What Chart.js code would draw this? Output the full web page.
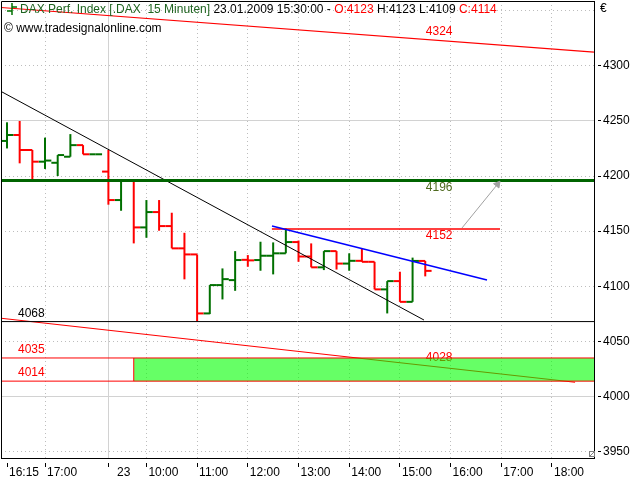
<!DOCTYPE html>
<html><head><meta charset="utf-8">
<script src="https://cdn.jsdelivr.net/npm/chart.js@4.4.1/dist/chart.umd.min.js"></script>
<style>html,body{margin:0;padding:0;background:#fff;}canvas{display:block;}</style>
</head><body>
<canvas id="c" width="640" height="480"></canvas>
<script>
// ---- data ----
const barTimes = ['16:15','16:30','16:45','17:00','17:15','17:30','17:45','18:00',
  '09:15','09:30','09:45','10:00','10:15','10:30','10:45','11:00','11:15','11:30','11:45','12:00',
  '12:15','12:30','12:45','13:00','13:15','13:30','13:45','14:00','14:15','14:30','14:45','15:00','15:15','15:30'];
const opens  = [4231.8,4237.2,4223.6,4213.0,4212.0,4217.5,4228.0,4219.7,4204.0,4178.2,4195.7,4153.4,4167.3,4154.6,4134.4,4128.9,4075.4,4101.1,4105.6,4124.0,4123.8,4127.7,4129.9,4140.1,4127.0,4117.2,4131.9,4120.6,4123.1,4122.2,4097.2,4104.7,4085.9,4123];
const highs  = [4248.7,4249.9,4223.6,4234.8,4219.0,4238.0,4228.0,4219.7,4223.6,4195.7,4195.7,4178.2,4178.2,4166.7,4148.5,4128.9,4101.1,4116.2,4131.9,4128.3,4140.4,4139.8,4152.5,4141.5,4138.9,4131.9,4131.9,4129.9,4134.4,4122.2,4104.7,4113.2,4126.0,4123];
const lows   = [4225.0,4211.5,4197.0,4206.4,4200.0,4217.5,4219.7,4219.7,4174.0,4168.5,4138.9,4144.0,4150.4,4134.4,4106.3,4068.4,4074.8,4088.1,4095.9,4117.7,4114.1,4110.8,4129.9,4122.2,4117.2,4114.7,4115.2,4114.1,4122.2,4097.2,4075.4,4085.9,4085.9,4109];
const closes = [4237.2,4223.6,4213.0,4214.0,4219.0,4228.0,4219.7,4219.7,4178.2,4195.7,4153.4,4167.3,4154.6,4134.4,4128.9,4075.4,4101.1,4106.5,4123.8,4123.5,4127.7,4129.9,4140.1,4127.0,4117.2,4131.9,4120.6,4123.1,4122.2,4097.2,4104.7,4085.9,4123.0,4114];

const xTickIndex  = [0,3,8,11,15,19,23,27,31,35,39,43];
const xTickLabels = ['16:15','17:00','  23','10:00','11:00','12:00','13:00','14:00','15:00','16:00','17:00','18:00'];
const yTickValues = [3950,4000,4050,4100,4150,4200,4250,4300,4350];
const yTickShown  = [3950,4000,4050,4100,4150,4200,4250,4300];

// drawn levels / trend lines (value coordinates: [bar index, price])
const resistLevel = 4196;
const breakoutLevel = 4152;
const supportLevel = 4068;
const zoneTop = 4035;
const zoneBottom = 4014;
const upperTrend = [[-0.47,4352.8],[46.31,4312.4]];
const upperTrendLabel = 4324;
const lowerTrend = [[-0.47,4071.0],[44.82,4013.0]];
const lowerTrendLabel = 4028;
const downTrend = [[-0.47,4276.7],[32.9,4069.4]];
const channelTop = [[20.91,4154.7],[37.87,4105.7]];
const breakoutLine = [[20.9,4152],[38.9,4152]];
const arrowLine = [[35.9,4152.9],[38.7,4192.5]];
const zoneStart = 10;

// ---- styles ----
const RED = '#ff0000', GREEN = '#007000';
const X_MIN = -0.4734, X_MAX = 46.314, Y_MIN = 3944.3, Y_MAX = 4358.7;
const FONT = '12px "Liberation Sans", Arial, sans-serif';

Chart.defaults.font.family = '"Liberation Sans", Arial, sans-serif';
Chart.defaults.font.size = 12;
Chart.defaults.color = '#000';

const N = opens.length;
const barColor = i => closes[i] >= opens[i] ? GREEN : RED;
const hlData = [], openData = [], closeData = [];
for (let i = 0; i < N; i++) {
  hlData.push({x:i,y:lows[i]},{x:i,y:highs[i]},{x:i,y:null});
  openData.push({x:i-0.5,y:opens[i]},{x:i,y:opens[i]},{x:i,y:null});
  closeData.push({x:i,y:closes[i]},{x:i+0.5,y:closes[i]},{x:i,y:null});
}
const pts = arr => arr.map(p => ({x:p[0], y:p[1]}));
const seg = {borderColor: ctx => barColor(Math.floor(ctx.p0DataIndex/3))};
const lineDs = (id, data, color, width, order, extra) => Object.assign({
  id, data, borderColor: color, borderWidth: width, pointRadius: 0, pointHitRadius: 0,
  fill: false, tension: 0, order, spanGaps: false
}, extra || {});

const datasets = [
  lineDs('lowerTrend', pts(lowerTrend), RED, 1.2, 20),
  lineDs('zoneFillTop', [{x:zoneStart,y:zoneTop},{x:X_MAX+1,y:zoneTop}], 'rgba(0,0,0,0)', 0, 19,
    {fill: {target: '+1'}, backgroundColor: 'rgba(0,255,0,0.6)'}),
  lineDs('zoneFillBottom', [{x:zoneStart,y:zoneBottom},{x:X_MAX+1,y:zoneBottom}], 'rgba(0,0,0,0)', 0, 18),
  lineDs('zoneTopLine', [{x:X_MIN-1,y:zoneTop},{x:X_MAX+1,y:zoneTop}], RED, 1, 17),
  lineDs('zoneBottomLine', [{x:X_MIN-1,y:zoneBottom},{x:X_MAX+1,y:zoneBottom}], RED, 1, 17),
  lineDs('zoneEdge', [{x:zoneStart,y:zoneBottom},{x:zoneStart,y:zoneTop}], RED, 1, 17),
  lineDs('hl', hlData, GREEN, 2, 12, {segment: seg}),
  lineDs('open', openData, GREEN, 2, 11, {segment: seg}),
  lineDs('close', closeData, GREEN, 2, 10, {segment: seg}),
  lineDs('support', [{x:X_MIN-1,y:supportLevel},{x:X_MAX+1,y:supportLevel}], '#000', 1, 5),
  lineDs('resist', [{x:X_MIN-1,y:resistLevel},{x:X_MAX+1,y:resistLevel}], '#006400', 3, 4),
  lineDs('upperTrend', pts(upperTrend), RED, 1.2, 4),
  lineDs('downTrend', pts(downTrend), '#000', 1, 4),
  lineDs('breakout', pts(breakoutLine), RED, 1.5, 3),
  lineDs('channelTop', pts(channelTop), '#0000ff', 1.5, 2),
  lineDs('arrow', pts(arrowLine), '#a0a0a0', 1, 1,
    {pointRadius: [0,4], pointStyle: 'triangle', rotation: 39, pointBackgroundColor: '#a0a0a0', pointBorderColor: '#a0a0a0', pointBorderWidth: 1})
];

function text(ctx, t, x, y, color, align) {
  ctx.save(); ctx.font = FONT; ctx.fillStyle = color; ctx.textAlign = align || 'left';
  ctx.textBaseline = 'middle'; ctx.fillText(t, x, y); ctx.restore();
}

const overlay = {
  id: 'overlay',
  beforeDatasetDraw(chart, args) {
    if (chart.data.datasets[args.index].id !== 'lowerTrend') return;
    const xs = chart.scales.x, ys = chart.scales.y;
    text(chart.ctx, String(lowerTrendLabel), xs.getPixelForValue(34.1), ys.getPixelForValue(4035.4), RED, 'center');
  },
  afterDatasetsDraw(chart) {
    const ctx = chart.ctx, xs = chart.scales.x, ys = chart.scales.y;
    const X = v => xs.getPixelForValue(v), Y = v => ys.getPixelForValue(v);
    text(ctx, String(upperTrendLabel), X(34.1), Y(4331), RED, 'center');
    text(ctx, String(resistLevel), X(34.1), Y(4189.6), '#4f6a1f', 'center');
    text(ctx, String(breakoutLevel), X(34.1), Y(4145.6), RED, 'center');
    text(ctx, String(supportLevel), X(0.87), Y(4075.3), '#000', 'left');
    text(ctx, String(zoneTop), X(0.87), Y(4042.3), RED, 'left');
    text(ctx, String(zoneBottom), X(0.87), Y(4021.9), RED, 'left');
  },
  afterDraw(chart) {
    const ctx = chart.ctx, a = chart.chartArea;
    ctx.save();
    ctx.strokeStyle = '#000'; ctx.lineWidth = 1;
    ctx.beginPath();
    ctx.moveTo(a.left + 0.5, a.bottom); ctx.lineTo(a.left + 0.5, a.top + 0.5); ctx.lineTo(a.right, a.top + 0.5);
    ctx.stroke();
    // header icon
    ctx.strokeStyle = GREEN; ctx.lineWidth = 1.5;
    ctx.beginPath();
    ctx.moveTo(12, 3); ctx.lineTo(12, 15);
    ctx.moveTo(7, 11); ctx.lineTo(12, 11);
    ctx.moveTo(12, 7); ctx.lineTo(17, 7);
    ctx.stroke();
    // header
    const last = N - 1;
    const parts = [
      ['DAX Perf. Index [.DAX  15 Minuten] ', '#1f6420'],
      ['23.01.2009 ' + barTimes[last] + ':00 - ', '#000'],
      ['O:' + opens[last], RED],
      [' H:' + highs[last] + ' L:' + lows[last] + ' ', '#000'],
      ['C:' + closes[last], RED]
    ];
    ctx.font = FONT; ctx.textBaseline = 'middle'; ctx.textAlign = 'left';
    let x = 20;
    for (const [t, c] of parts) { ctx.fillStyle = c; ctx.fillText(t, x, 10); x += ctx.measureText(t).width; }
    ctx.fillStyle = '#000';
    ctx.fillText('\u00a9 www.tradesignalonline.com', 4, 29);
    ctx.fillText('\u20ac', 600, 9);
    // small corner icon
    ctx.strokeStyle = '#808080'; ctx.lineWidth = 1;
    ctx.strokeRect(589.5, 451.5, 5, 5);
    ctx.beginPath(); ctx.moveTo(590, 456); ctx.lineTo(594, 452); ctx.stroke();
    ctx.restore();
  }
};

const noPad = s => { s.paddingTop = 0; s.paddingBottom = 0; s.paddingLeft = 0; s.paddingRight = 0; };

new Chart(document.getElementById('c'), {
  type: 'line',
  data: { datasets },
  options: {
    responsive: false, devicePixelRatio: 1, animation: false, events: [],
    layout: { autoPadding: false, padding: { left: 1, top: 1, right: 0, bottom: 0 } },
    plugins: { legend: { display: false }, tooltip: { enabled: false } },
    scales: {
      x: {
        type: 'linear', position: 'bottom', min: X_MIN, max: X_MAX, bounds: 'data',
        afterBuildTicks: s => { s.ticks = xTickIndex.map(v => ({value: v})); },
        afterFit: s => { s.height = 22; noPad(s); },
        ticks: { autoSkip: false, maxRotation: 0, minRotation: 0, align: 'start', labelOffset: 2, padding: -2,
          color: '#000', callback: (v, i) => xTickLabels[i] },
        grid: {
          color: ctx => ctx.index === 0 ? 'rgba(0,0,0,0)' : (ctx.index === 2 ? '#d2d2d2' : '#bdbdbd'),
          lineWidth: 1, tickLength: 9, tickColor: '#000', tickWidth: 1, tickBorderDash: [0,4,5,40]
        },
        border: { display: true, color: '#000', width: 1,
          dash: ctx => (ctx.tick && ctx.index !== 2) ? [1,3] : [] }
      },
      y: {
        type: 'linear', position: 'right', min: Y_MIN, max: Y_MAX, bounds: 'data',
        afterBuildTicks: s => { s.ticks = yTickValues.map(v => ({value: v})); },
        afterFit: s => { s.width = 46; noPad(s); },
        ticks: { padding: 2, color: '#000', callback: v => yTickShown.includes(v) ? String(v) : '' },
        grid: {
          color: ctx => (ctx.tick && ctx.tick.value % 250 === 0) ? '#d2d2d2' : '#bdbdbd',
          lineWidth: 1, tickLength: 7, tickWidth: 1, tickBorderDash: [0,3,4,40],
          tickColor: ctx => (ctx.tick && yTickShown.includes(ctx.tick.value)) ? '#000' : 'rgba(0,0,0,0)'
        },
        border: { display: true, color: '#000', width: 1,
          dash: ctx => ctx.tick ? (ctx.tick.value % 250 === 0 ? [] : [1,3]) : [] }
      }
    }
  },
  plugins: [overlay]
});
</script>
</body></html>
